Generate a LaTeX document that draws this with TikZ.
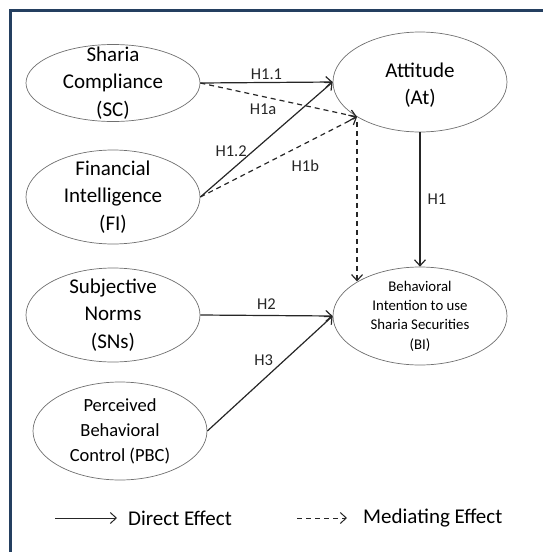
\documentclass[tikz,border=0pt]{standalone}
\usepackage{fontspec}
\setmainfont{Carlito}
\usetikzlibrary{shapes.geometric, arrows.meta, positioning, calc}
\definecolor{framenavy}{HTML}{243F60}
\definecolor{ringgray}{HTML}{707070}
\definecolor{linegray}{HTML}{262626}

\begin{document}
\begin{tikzpicture}[
  x=1pt, y=-1pt,
  construct/.style={ellipse, draw=ringgray, line width=0.7pt, inner sep=0pt,
                    minimum width=174pt},
  bigtxt/.style={align=center, font=\fontsize{21}{27.5}\selectfont},
  midtxt/.style={align=center, font=\fontsize{18.5}{25}\selectfont},
  smalltxt/.style={align=center, font=\fontsize{14.8}{19.3}\selectfont},
  hyp/.style={font=\fontsize{16.5}{19}\selectfont, text=linegray, inner sep=2pt},
  eff/.style={-{Straight Barb[length=6pt, width=11pt]}, line width=1.2pt, draw=linegray},
  med/.style={eff, dash pattern=on 5pt off 4pt},
  legend/.style={font=\fontsize{21}{25}\selectfont, inner sep=0pt}
]
\useasboundingbox (0,0) rectangle (543,552);
\draw[framenavy, line width=3pt] (10.5,10.5) rectangle (600,600);

% constructs
\node[construct, minimum height=77pt] (sc) at (113,83) {};
\node[bigtxt] (sc-t) at (sc) {Sharia\\Compliance\\(SC)};
\node[construct, minimum height=94pt] (fi) at (113,197) {};
\node[bigtxt] (fi-t) at (fi) {Financial\\Intelligence\\(FI)};
\node[construct, minimum height=94pt] (sns) at (113,315) {};
\node[bigtxt] (sns-t) at (sns) {Subjective\\Norms\\(SNs)};
\node[construct, minimum height=98pt] (pbc) at (120,431) {};
\node[midtxt] (pbc-t) at (pbc) {Perceived\\Behavioral\\Control (PBC)};
\node[construct, minimum height=100pt] (at) at (420,82) {};
\node[bigtxt] (at-t) at ([yshift=-3pt]at) {Attitude\\(At)};
\node[construct, minimum height=98pt] (bi) at (420,316) {};
\node[smalltxt] (bi-t) at (bi) {Behavioral\\Intention to use\\Sharia Securities\\(BI)};

% direct effects
\draw[eff] (sc.east) -- (at.west) node[midway, above, hyp] {H1.1};
\draw[eff] (fi.east) -- (at.west) node[pos=0.4, left=4pt, hyp] {H1.2};
\draw[eff] (at.south) -- (bi.north) node[midway, right=5pt, hyp] {H1};
\draw[eff] (sns.east) -- (bi.west) node[midway, above=3pt, hyp] {H2};
\draw[eff] (pbc.east) -- (bi.west) node[pos=0.45, above=11pt, hyp] {H3};

% mediating effects
\draw[med] (sc.east) -- (at.209) node[pos=0.4, below=5pt, hyp] {H1a};
\draw[med] (fi.east) -- (at.209) node[pos=0.67, below=14pt, hyp] {H1b};
\draw[med, shorten <=5pt] (at.209) -- (at.209 |- bi.151);

% legend
\node[legend, anchor=west] (direct) at (128,518) {Direct Effect};
\coordinate (d0) at (55,518);
\draw[eff, line width=1pt] (d0) -- ([xshift=-11pt]direct.west);
\node[legend, anchor=west] (mediating) at (363,518) {Mediating Effect};
\coordinate (m0) at (297,518);
\draw[med, line width=1pt] (m0) -- ([xshift=-16pt]mediating.west);
\end{tikzpicture}
\end{document}
